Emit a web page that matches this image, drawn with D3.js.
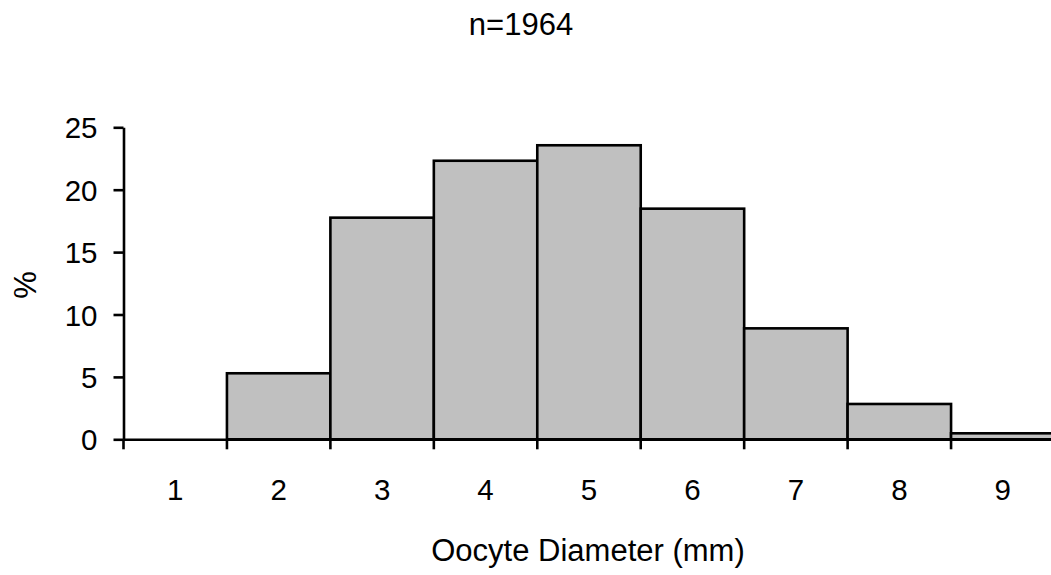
<!DOCTYPE html>
<html><head><meta charset="utf-8">
<script src="https://cdn.jsdelivr.net/npm/d3@7"></script>
<style>body{margin:0;background:#fff}svg{display:block}text{font-family:"Liberation Sans",Arial,sans-serif;fill:#000}</style>
</head><body>
<script>
const categories = ["1","2","3","4","5","6","7","8","9"];
const values = [0, 5.29, 17.76, 22.32, 23.56, 18.48, 8.89, 2.83, 0.48];
const yTicks = [0, 5, 10, 15, 20, 25];
const title = "n=1964";
const xTitle = "Oocyte Diameter (mm)";
const yTitle = "%";

const W = 1051, H = 575;
const svg = d3.select("body").append("svg").attr("width", W).attr("height", H);
const x = d3.scaleBand().domain(categories).range([123.5, 1054.5]).padding(0);
const y = d3.scaleLinear().domain([0, 25]).range([439.3, 127.3]);
const fs = 29.5, fsT = 31;

svg.append("g").selectAll("rect").data(values).join("rect")
  .attr("x", (d, i) => x(categories[i]))
  .attr("y", d => y(d))
  .attr("width", x.bandwidth())
  .attr("height", d => y(0) - y(d))
  .attr("fill", d => d > 0 ? "#c0c0c0" : "none")
  .attr("stroke", d => d > 0 ? "#000" : "none")
  .attr("stroke-width", 2.6);

// y axis
const ya = svg.append("g").attr("transform", `translate(${x.range()[0]},0)`)
  .call(d3.axisLeft(y).tickValues(yTicks).tickSize(10).tickPadding(16).tickSizeOuter(0));
ya.select(".domain").attr("stroke", "#000").attr("stroke-width", 2.6);
ya.selectAll(".tick line").attr("stroke", "#000").attr("stroke-width", 2.6);
ya.selectAll(".tick text").attr("font-size", fs).attr("font-family", "Liberation Sans, Arial, sans-serif").attr("dy", "0.36em");

// x axis
const xa = svg.append("g").attr("transform", `translate(0,${y(0)})`)
  .call(d3.axisBottom(x).tickSize(0).tickPadding(0).tickSizeOuter(0));
xa.select(".domain").attr("stroke", "#000").attr("stroke-width", 2.6);
xa.selectAll(".tick text").attr("font-size", fs).attr("font-family", "Liberation Sans, Arial, sans-serif")
  .attr("y", 500 - 439.3).attr("dy", 0);
// tick marks at band boundaries
const bounds = categories.map(c => x(c)).concat([x.range()[1]]);
svg.append("g").selectAll("line").data(bounds).join("line")
  .attr("x1", d => d).attr("x2", d => d)
  .attr("y1", y(0)).attr("y2", y(0) + 10)
  .attr("stroke", "#000").attr("stroke-width", 2.6);

svg.append("text").attr("x", 521).attr("y", 35).attr("text-anchor", "middle")
  .attr("font-size", fsT).text(title);
svg.append("text").attr("x", 588).attr("y", 561).attr("text-anchor", "middle")
  .attr("font-size", fsT).text(xTitle);
svg.append("text").attr("transform", "translate(36,285) rotate(-90)").attr("text-anchor", "middle")
  .attr("font-size", fsT).text(yTitle);
</script>
</body></html>
